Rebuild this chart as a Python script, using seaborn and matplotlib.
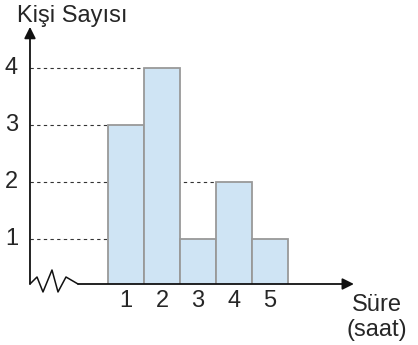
import numpy as np
import pandas as pd
import matplotlib
matplotlib.use('Agg')
import matplotlib.pyplot as plt
import seaborn as sns

# data
hours = [1, 2, 3, 4, 5]
counts = [3, 4, 1, 2, 1]
y_ticks = [1, 2, 3, 4]
x_label = 'Süre\n(saat)'
y_label = 'Kişi Sayısı'

df = pd.DataFrame({'hours': hours, 'counts': counts})

sns.set_style('white')
plt.rcParams['font.family'] = ['Liberation Sans', 'DejaVu Sans']

fig = plt.figure(figsize=(4.18, 3.45), dpi=100)
# axes bottom sits on the baseline of the chart
base_frac = (345 - 284) / 345
ax = fig.add_axes([0, base_frac, 1, 1 - base_frac])

sns.barplot(data=df, x='hours', y='counts', native_scale=True, width=1,
            color='#cfe4f4', edgecolor='#999999', linewidth=1.3,
            saturation=1, ax=ax, zorder=3, errorbar=None)

y_base = 0.202
ax.set_xlim(-2.5, 9.111)
ax.set_ylim(y_base, 5.193)
ax.axis('off')

x_axis = -1.667
fs = 17

# dashed guides to the bar with that height
for v in y_ticks:
    last = max(h for h, c in zip(hours, counts) if c == v)
    ax.plot([x_axis, last - 0.5], [v, v], ls=(0, (3, 3)), color='#333333',
            lw=0.8, zorder=1)
    ax.text(-2.18, v, str(v), ha='center', va='center', fontsize=fs)

for h in hours:
    ax.text(h, -0.097, str(h), ha='center', va='center', fontsize=fs,
            clip_on=False)

# axes with arrows
ax.annotate('', xy=(x_axis, 4.72), xytext=(x_axis, y_base),
            arrowprops=dict(arrowstyle='-|>', color='#111111', lw=1.3,
                            mutation_scale=17, shrinkA=0, shrinkB=0),
            annotation_clip=False)
ax.annotate('', xy=(7.33, y_base), xytext=(-0.333, y_base),
            arrowprops=dict(arrowstyle='-|>', color='#111111', lw=1.3,
                            mutation_scale=17, shrinkA=0, shrinkB=0),
            annotation_clip=False)

# axis break zigzag
zx = [-1.667, -1.472, -1.306, -1.056, -0.889, -0.667, -0.333]
zy = [0.202, 0.325, 0.062, 0.448, 0.062, 0.325, 0.202]
ax.plot(zx, zy, color='#111111', lw=1.1, clip_on=False, zorder=4)

ax.text(-2.03, 4.807, y_label, ha='left', va='baseline', fontsize=fs)
ax.text(7.97, -0.387, x_label, ha='center', va='center', fontsize=fs,
        linespacing=1.2, clip_on=False)

plt.savefig('out.png', dpi=100)
